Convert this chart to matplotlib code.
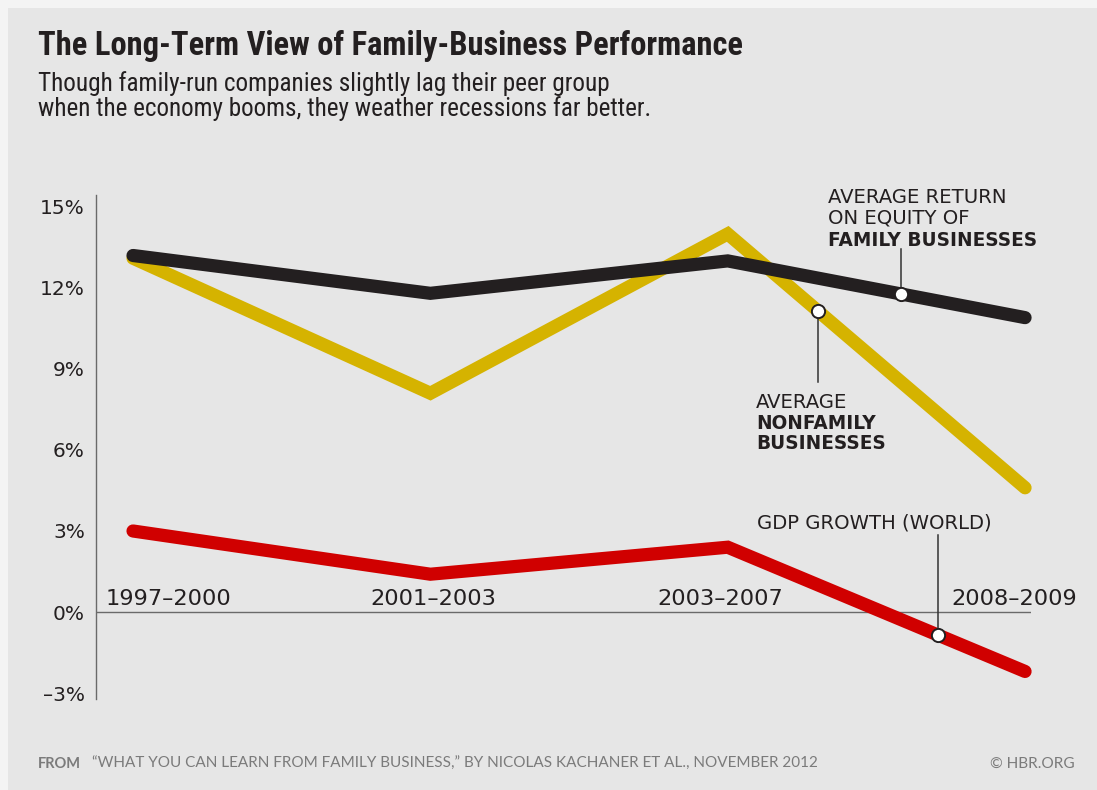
import numpy as np
import matplotlib
matplotlib.use("Agg")
import matplotlib.pyplot as plt
from matplotlib.patches import Rectangle

# ---- data -------------------------------------------------------------
periods = ["1997–2000", "2001–2003", "2003–2007", "2008–2009"]
family_roe = [13.2, 11.8, 13.0, 10.9]      # average ROE, family businesses (%)
nonfamily_roe = [13.1, 8.1, 14.0, 4.6]     # average ROE, nonfamily businesses (%)
gdp_growth = [3.0, 1.4, 2.4, -2.2]         # world GDP growth (%)
y_ticks = [-3, 0, 3, 6, 9, 12, 15]
y_tick_labels = ["–3%", "0%", "3%", "6%", "9%", "12%", "15%"]

# ---- style ------------------------------------------------------------
INK = "#231f20"
GOLD = "#d5b300"
RED = "#d00000"
PANEL = "#e6e6e6"
GREY_TXT = "#7b7b7b"
SANS = ["DejaVu Sans"]
FOOT = ["Lato", "Roboto", "DejaVu Sans"]
COND = ["Roboto Condensed", "Liberation Sans Narrow", "Roboto", "DejaVu Sans"]

W, H = 1097, 790
fig = plt.figure(figsize=(W / 100, H / 100), dpi=100)
fig.patch.set_facecolor("#f4f4f4")
fig.add_artist(Rectangle((8 / W, 0), 1 - 8 / W, 1 - 8 / H, transform=fig.transFigure,
                         facecolor=PANEL, edgecolor="none", zorder=-10))

def px_box(x0, y0, x1, y1):
    return [x0 / W, 1 - y1 / H, (x1 - x0) / W, (y1 - y0) / H]

ax = fig.add_axes(px_box(96, 195, 1031, 699))
ax.set_facecolor("none")
x = np.arange(len(periods))
ax.set_xlim(-0.1245, 3.02)
ax.set_ylim(-3.22, 15.44)

for s in ["top", "right", "bottom"]:
    ax.spines[s].set_visible(False)
ax.spines["left"].set_color("#6a6a6a")
ax.spines["left"].set_linewidth(1.0)
ax.axhline(0, color="#6a6a6a", lw=1.0, zorder=1)

ax.set_xticks([])
ax.set_yticks(y_ticks)
ax.set_yticklabels(y_tick_labels, fontsize=14.5, color=INK, family=SANS)
ax.tick_params(axis="y", length=0, pad=8)

lw = 9.5
line_kw = dict(lw=lw, solid_capstyle="round", solid_joinstyle="miter", clip_on=False)
ax.plot(x, gdp_growth, color=RED, zorder=3, **line_kw)
ax.plot(x, nonfamily_roe, color=GOLD, zorder=4, **line_kw)
ax.plot(x, family_roe, color=INK, zorder=5, **line_kw)

# period labels sitting on the zero line
label_x = [0.118, 1.009, 1.976, 2.962]
period_texts = []
for lx, p in zip(label_x, periods):
    period_texts.append(ax.text(lx, 0.25, p, ha="center", va="baseline", fontsize=13.5,
                                color=INK, family=SANS, zorder=6))

# callouts: marker on the line, leader line, stacked text
regular_texts, bold_texts = [], []

def callout(series, mx, lead_to, tx, lines, baselines):
    my = np.interp(mx, x, series)
    ax.plot([mx, mx], [my, lead_to], color="#333333", lw=1.1, zorder=6,
            clip_on=False)
    ax.plot(mx, my, "o", ms=9.5, mfc="white", mec=INK, mew=1.4, zorder=7,
            clip_on=False)
    for (txt, weight), by in zip(lines, baselines):
        t = ax.text(tx, by, txt, ha="left", va="baseline", fontsize=12.5,
                    fontweight=weight, color=INK, family=SANS, zorder=6)
        (bold_texts if weight == "bold" else regular_texts).append(t)

callout(family_roe, 2.583, 13.45, 2.338,
        [("AVERAGE RETURN", "normal"), ("ON EQUITY OF", "normal"),
         ("FAMILY BUSINESSES", "bold")],
        [15.15, 14.37, 13.56])
callout(nonfamily_roe, 2.304, 8.52, 2.096,
        [("AVERAGE", "normal"), ("NONFAMILY", "bold"), ("BUSINESSES", "bold")],
        [7.56, 6.78, 6.02])
callout(gdp_growth, 2.708, 2.85, 2.099,
        [("GDP GROWTH (WORLD)", "normal")],
        [3.11])

# ---- titles and footer ------------------------------------------------
def fig_text(xp, yp, s, **kw):
    return fig.text(xp / W, 1 - yp / H, s, va="baseline", **kw)

title = fig_text(38, 55, "The Long-Term View of Family-Business Performance",
                 fontsize=20, fontweight="bold", color=INK, family=COND)
sub1 = fig_text(38, 91, "Though family-run companies slightly lag their peer group",
                fontsize=15, color=INK, family=COND)
sub2 = fig_text(38, 116, "when the economy booms, they weather recessions far better.",
                fontsize=15, color=INK, family=COND)
foot1 = fig_text(38, 768, "FROM", fontsize=10.5, fontweight="bold", color=GREY_TXT,
                 family=FOOT)
foot2 = fig_text(92, 768,
                 "“WHAT YOU CAN LEARN FROM FAMILY BUSINESS,” BY NICOLAS KACHANER ET AL., NOVEMBER 2012",
                 fontsize=10.5, color=GREY_TXT, family=FOOT)
foot3 = fig.text(1075 / W, 1 - 768 / H, "© HBR.ORG", ha="right", va="baseline",
                 fontsize=10.5, color=GREY_TXT, family=FOOT)

# scale text so each block spans its intended width
renderer = fig.canvas.get_renderer()

def fit(group, probe, target):
    w = probe.get_window_extent(renderer).width
    k = target / w
    for t in group:
        t.set_fontsize(t.get_fontsize() * k)

for t, target in [(title, 704), (sub1, 574), (sub2, 616), (foot2, 730), (foot3, 85)]:
    fit([t], t, target)
fit(period_texts, period_texts[0], 125)
fit(regular_texts, regular_texts[-1], 236)
fit(bold_texts, bold_texts[0], 209)

fig.savefig("out.png", dpi=100, facecolor=fig.get_facecolor())
